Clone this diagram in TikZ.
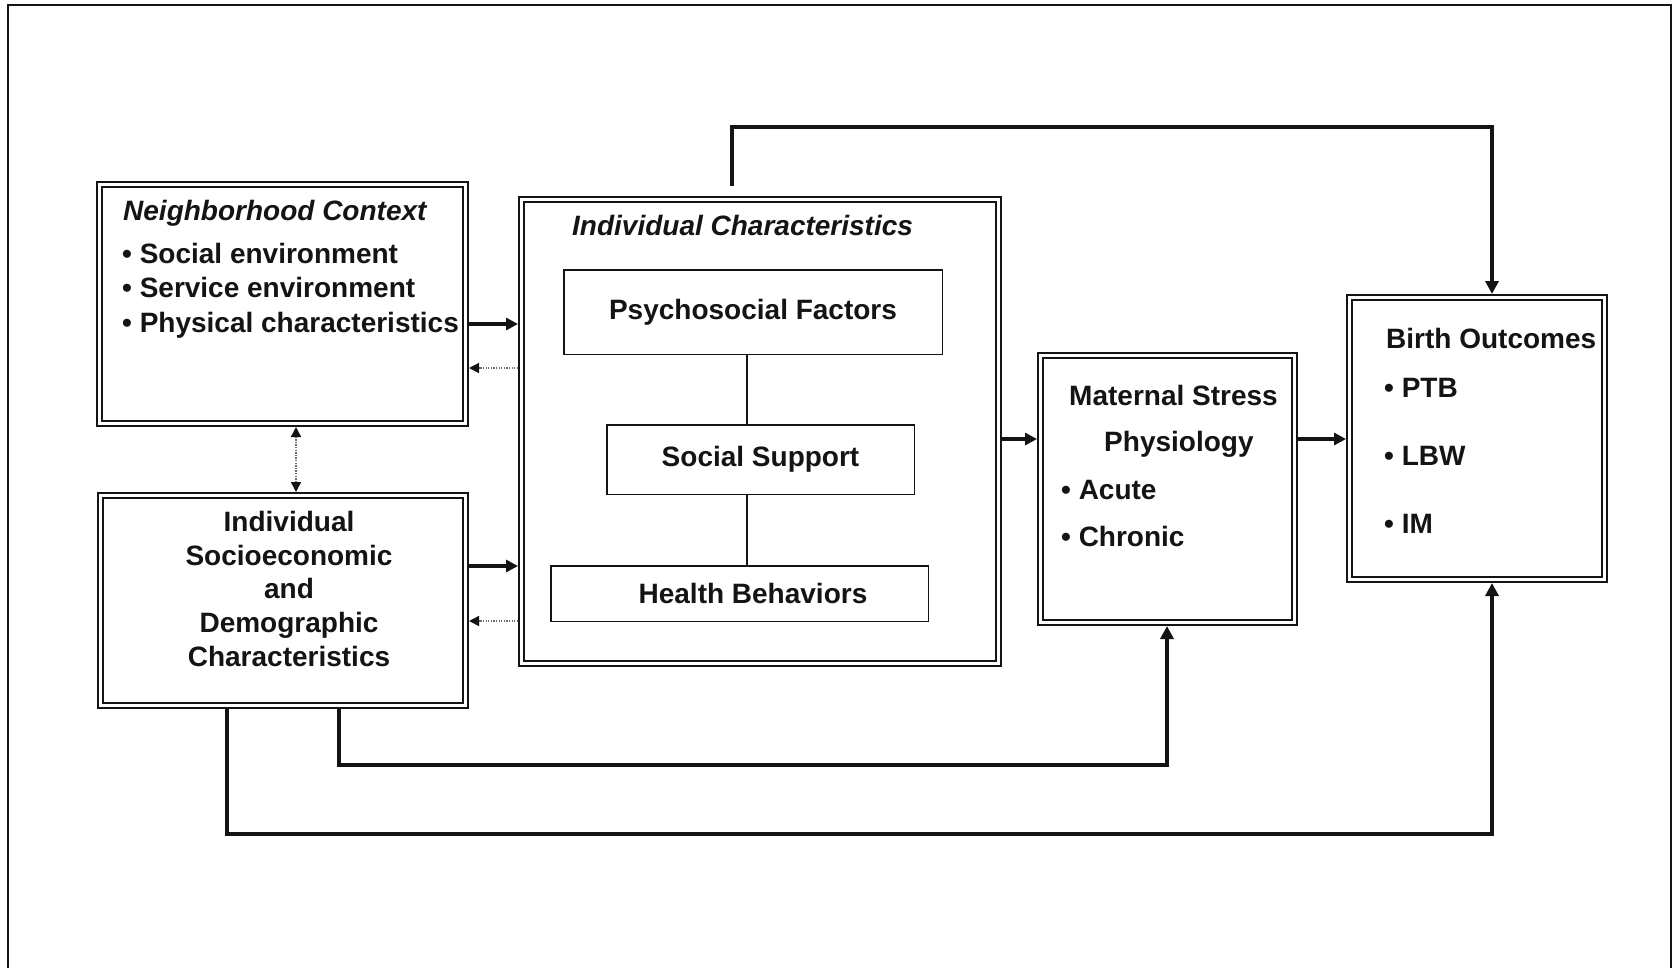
\documentclass[tikz,border=0pt]{standalone}
\usepackage{fontspec}
\setmainfont{Liberation Sans}
\usetikzlibrary{arrows.meta}
\definecolor{ink}{HTML}{141414}
\definecolor{dotgray}{HTML}{6A6A6A}
\begin{document}
\begin{tikzpicture}[x=1pt,y=-1pt,
  dbox/.style={draw=ink, line width=2.4pt, double=white, double distance=2.6pt, inner sep=0pt, outer sep=3.7pt},
  ibox/.style={draw=ink, line width=1.5pt, inner sep=0pt, outer sep=0.75pt, text=ink, font=\fontsize{28}{34}\selectfont\bfseries},
  txt/.style={inner sep=0pt, text=ink, font=\fontsize{28}{34}\selectfont\bfseries},
  ttl/.style={txt, font=\fontsize{28}{34}\selectfont\bfseries\itshape},
  conn/.style={draw=ink, line width=4pt, line join=miter, -{Triangle[length=13pt,width=13pt]}},
  arr/.style={draw=ink, line width=3.5pt, -{Triangle[length=12pt,width=12pt]}},
  dotarr/.style={draw=dotgray, line width=1.4pt, dash pattern=on 1.3pt off 1.3pt, -{Triangle[length=10pt,width=10pt,color=ink]}},
  thinline/.style={draw=ink, line width=1.3pt}]
\useasboundingbox (0,0) rectangle (1677,967);
\fill[white] (0,0) rectangle (1677,967);
% outer frame
\draw[ink, line width=2.5pt, line join=miter] (8,975) -- (8,5) -- (1671,5) -- (1671,975);

% boxes
\node[dbox, minimum width=365.6pt, minimum height=238.6pt] (nc) at (282.5,304) {};
\node[dbox, minimum width=364.6pt, minimum height=209.6pt] (ses) at (283,600.5) {};
\node[dbox, minimum width=476.6pt, minimum height=463.6pt] (ic) at (760,431.5) {};
\node[dbox, minimum width=253.6pt, minimum height=266.6pt] (ms) at (1167.5,489) {};
\node[dbox, minimum width=254.6pt, minimum height=281.6pt] (bo) at (1477,438.5) {};
\node[ibox, minimum width=378.5pt, minimum height=84.5pt] (pf) at (753,312) {Psychosocial Factors};
\node[ibox, minimum width=307.5pt, minimum height=69.5pt] (ss) at (760.5,459.5) {Social Support};
\node[ibox, minimum width=377.5pt, minimum height=55.5pt] (hb) at (739.5,593.5) {};
\node[txt, anchor=base] (hbt) at (753,603) {Health Behaviors};

% texts: neighborhood
\node[ttl, anchor=base west] (nct) at (123,220) {Neighborhood Context};
\node[txt, anchor=base west] (nc1) at (122,263) {• Social environment};
\node[txt, anchor=base west] (nc2) at (122,297) {• Service environment};
\node[txt, anchor=base west] (nc3) at (122,332) {• Physical characteristics};
% SES
\node[txt, anchor=base] (s1) at (289,531) {Individual};
\node[txt, anchor=base] (s2) at (289,565) {Socioeconomic};
\node[txt, anchor=base] (s3) at (289,598) {and};
\node[txt, anchor=base] (s4) at (289,632) {Demographic};
\node[txt, anchor=base] (s5) at (289,666) {Characteristics};
% IC
\node[ttl, anchor=base west] (ict) at (572,235) {Individual Characteristics};
% maternal
\node[txt, anchor=base west] (m1) at (1069,405) {Maternal Stress};
\node[txt, anchor=base west] (m2) at (1104,451) {Physiology};
\node[txt, anchor=base west] (m3) at (1061,499) {• Acute};
\node[txt, anchor=base west] (m4) at (1061,546) {• Chronic};
% birth
\node[txt, anchor=base west] (b0) at (1386,348) {Birth Outcomes};
\node[txt, anchor=base west] (bb1) at (1384,397) {• PTB};
\node[txt, anchor=base west] (bb2) at (1384,465) {• LBW};
\node[txt, anchor=base west] (bb3) at (1384,533) {• IM};

% helper coordinates
\coordinate (t1) at (732,127);
\coordinate (t2) at (1492,127);
\coordinate (k1) at (339,765);
\coordinate (k2) at (1167,765);
\coordinate (c1) at (227,834);
\coordinate (c2) at (1492,834);
\coordinate (a1) at (0,324);
\coordinate (a2) at (0,368);
\coordinate (a3) at (0,566);
\coordinate (a4) at (0,621);
\coordinate (a5) at (0,439);
\coordinate (dv) at (296,0);
\coordinate (iv) at (747,0);

% connectors
\draw[conn, shorten <=10pt] (ic.north -| t1) -- (t1) -- (t2) -- (bo.north -| t2);
\draw[conn] (ses.south -| k1) -- (k1) -- (k2) -- (ms.south -| k2);
\draw[conn] (ses.south -| c1) -- (c1) -- (c2) -- (bo.south -| c2);
\draw[arr] (nc.east |- a1) -- (ic.west |- a1);
\draw[dotarr] (ic.west |- a2) -- (nc.east |- a2);
\draw[arr] (ses.east |- a3) -- (ic.west |- a3);
\draw[dotarr] (ic.west |- a4) -- (ses.east |- a4);
\draw[dotarr, {Triangle[length=10pt,width=10pt,color=ink]}-{Triangle[length=10pt,width=10pt,color=ink]}] (nc.south -| dv) -- (ses.north -| dv);
\draw[arr] (ic.east |- a5) -- (ms.west |- a5);
\draw[arr] (ms.east |- a5) -- (bo.west |- a5);
\draw[thinline] (pf.south -| iv) -- (ss.north -| iv);
\draw[thinline] (ss.south -| iv) -- (hb.north -| iv);
\end{tikzpicture}
\end{document}
